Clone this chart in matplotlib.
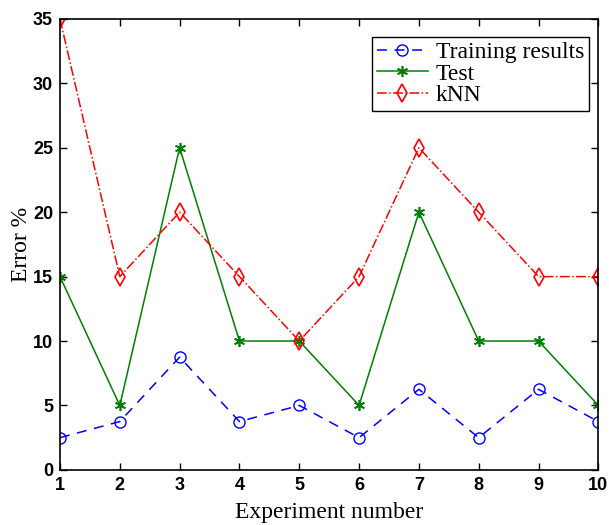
import matplotlib
matplotlib.use("Agg")
import matplotlib.pyplot as plt

experiments = [1, 2, 3, 4, 5, 6, 7, 8, 9, 10]
training = [2.5, 3.75, 8.75, 3.75, 5, 2.5, 6.25, 2.5, 6.25, 3.75]
test = [15, 5, 25, 10, 10, 5, 20, 10, 10, 5]
knn = [35, 15, 20, 15, 10, 15, 25, 20, 15, 15]

fig = plt.figure(figsize=(6.09, 5.25), dpi=100)
ax = fig.add_axes([0.0985, 0.105, 0.884, 0.859])

ax.plot(experiments, training, "b--o", mfc="none", ms=8, lw=1.1,
        dashes=(6.5, 5), label="Training results")
ax.plot(experiments, test, "-", marker=(6, 2, 0), color="#008000", ms=8,
        mew=1.2, lw=1.1, label="Test")
ax.plot(experiments, knn, "-.d", color="red", mfc="none", ms=9, mew=1.2,
        lw=1.1, label="kNN")

ax.set_xlim(1, 10)
ax.set_ylim(0, 35)
ax.set_xticks(experiments)
ax.set_yticks(range(0, 36, 5))
ax.tick_params(direction="in", length=5, width=1, top=True, right=True,
               pad=5)
for lbl in ax.get_xticklabels() + ax.get_yticklabels():
    lbl.set_family("Liberation Sans")
    lbl.set_fontweight("bold")
    lbl.set_fontsize(13)
for s in ax.spines.values():
    s.set_linewidth(1.2)

ax.set_xlabel("Experiment number", family="Liberation Serif", fontsize=17, labelpad=6)
ax.set_ylabel("Error %", family="Liberation Serif", fontsize=17, labelpad=1)

leg = ax.legend(loc="upper right", bbox_to_anchor=(0.982, 0.96),
                prop={"family": "Liberation Serif", "size": 17},
                fancybox=False, edgecolor="black", framealpha=1,
                handlelength=2.2, borderpad=0.2, labelspacing=0.0,
                handletextpad=0.3, borderaxespad=0)
leg.get_frame().set_linewidth(1.0)

fig.savefig("out.png", dpi=100)
